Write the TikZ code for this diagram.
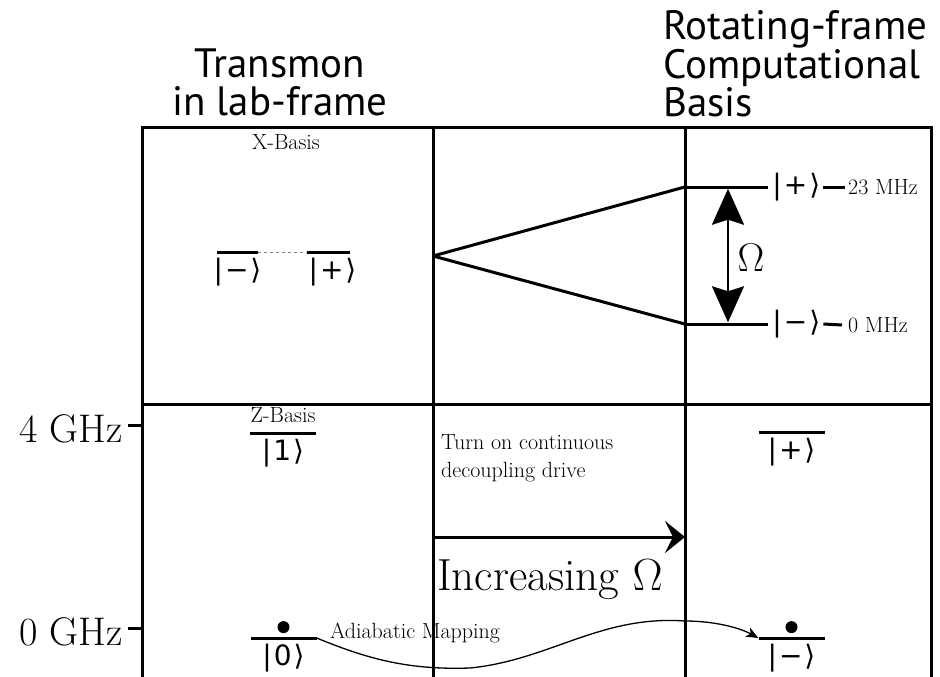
\RequirePackage{fix-cm}
\documentclass[tikz,border=0pt]{standalone}
\usepackage{fontspec}
\usepackage{amsmath}
\usetikzlibrary{arrows.meta,positioning,calc}
\newfontfamily\headfont{PT Sans}
\newfontfamily\ketfont{DejaVu Sans}
\newcommand{\kt}[1]{{\ketfont|\hspace{2pt}#1\hspace{2pt}⟩}}
\tikzset{
  wall/.style={line width=3pt,draw=black},
  lvl/.style={rectangle,fill=black,inner sep=0pt,
              minimum height=3pt,minimum width=66pt},
  ket/.style={inner sep=0pt,font=\fontsize{28}{28}\selectfont},
  hd/.style={inner sep=0pt,font=\fontsize{41}{37.5}\selectfont\headfont},
  sm/.style={inner sep=0pt,font=\fontsize{22}{28}\selectfont},
  big/.style={inner sep=0pt,font=\fontsize{40}{40}\selectfont},
  ball/.style={circle,fill=black,inner sep=0pt,minimum size=12pt},
  arr/.style={-{Stealth[length=20pt,width=32pt,inset=8pt]},line width=3pt},
  dbl/.style={{Stealth[length=36pt,width=32pt,inset=5pt]}-{Stealth[length=36pt,width=32pt,inset=5pt]},line width=2.5pt},
  thin arr/.style={-{Stealth[length=12pt,width=10pt,inset=3pt]},line width=1.3pt}
}

\begin{document}
\begin{tikzpicture}[x=1pt,y=-1pt,node distance=4pt]
  \useasboundingbox (0,0) rectangle (940,677);
  % table
  \draw[wall] (142,677) -- (142,127) -- (931,127) -- (931,677);
  \draw[wall] (142,404) -- (931,404);
  \draw[wall] (433,127) -- (433,677);
  \draw[wall] (685,127) -- (685,677);

  % headings
  \node[hd,align=center,anchor=south] (lab) at (280,116) {Transmon\\in lab-frame};
  \node[hd,align=left,anchor=south west] (rot) at (663,117) {Rotating-frame\\Computational\\Basis};

  % frequency axis
  \node[big,anchor=base east] (ghzhi) at (123,442) {4 GHz};
  \node[big,anchor=base east] (ghzlo) at (123,645) {0 GHz};
  \draw[wall] ([xshift=5pt,yshift=3pt]ghzhi.east) -- ++(14,0);
  \draw[wall] ([xshift=5pt,yshift=3pt]ghzlo.east) -- ++(14,0);

  % lab frame, X basis
  \node[sm] (xb) at (286,142) {X-Basis};
  \node[lvl,minimum width=41pt] (xm) at (237.5,252) {};
  \node[lvl,minimum width=43pt] (xp) at (328.5,252) {};
  \draw[gray,dashed,line width=0.8pt] (xm.east) -- (xp.west);
  \node[ket,below=of xm] (kxm) {\kt{−}};
  \node[ket,below=of xp,xshift=4pt] (kxp) {\kt{+}};

  % splitting
  \coordinate (split) at (433,256);
  \node[lvl,minimum width=83pt] (up) at (726.5,187) {};
  \node[lvl,minimum width=83pt] (dn) at (726.5,324) {};
  \draw[line width=3pt] (split) -- (up.west);
  \draw[line width=3pt] (split) -- (dn.west);
  \draw[dbl] ([xshift=1.5pt]up.south) -- ([xshift=1.5pt]dn.north);
  \node[big] (om) at (751,258) {$\Omega$};
  \node[ket,right=of up] (kup) {\kt{+}};
  \node[ket,right=of dn] (kdn) {\kt{−}};
  \node[sm,anchor=west] (fup) at (848,187) {23 MHz};
  \node[sm,anchor=west] (fdn) at (848,325) {0 MHz};
  \draw[line width=3pt] ([xshift=3pt]kup.east) -- ([xshift=-3pt]fup.west);
  \draw[line width=3pt] ([xshift=3pt]kdn.east) -- ([xshift=-6pt]fdn.west);

  % lab frame, Z basis
  \node[sm] (zb) at (283,415) {Z-Basis};
  \node[lvl] (one) at (283,433) {};
  \node[ket,below=of one] (kone) {\kt{1}};
  \node[lvl] (zero) at (283.5,638) {};
  \node[ball,above=3pt of zero] (bzero) {};
  \node[ket,below=of zero] (kzero) {\kt{0}};

  % drive
  \node[sm,anchor=north west,align=left] (turn) at (441,434) {Turn on continuous\\decoupling drive};
  \coordinate (ds) at (433,537);
  \coordinate (de) at (685,537);
  \draw[arr] (ds) -- (de);
  \node[big,font=\fontsize{45}{45}\selectfont,anchor=base west] (inc) at (437,590) {Increasing $\Omega$};

  % rotating frame
  \node[lvl] (plus) at (791.5,432) {};
  \node[ket,below=of plus] (kplus) {\kt{+}};
  \node[lvl] (minus) at (791.5,638) {};
  \node[ball,above=3pt of minus] (bminus) {};
  \node[ket,below=of minus] (kminus) {\kt{−}};

  % mapping
  \node[sm,anchor=base west] (adia) at (330,638) {Adiabatic Mapping};
  \draw[thin arr] (zero.east) .. controls (370,660) and (410,670) .. (470,668)
    .. controls (550,660) and (600,615) .. (685,621)
    .. controls (715,621) and (740,628) .. (minus.west);
\end{tikzpicture}
\end{document}
